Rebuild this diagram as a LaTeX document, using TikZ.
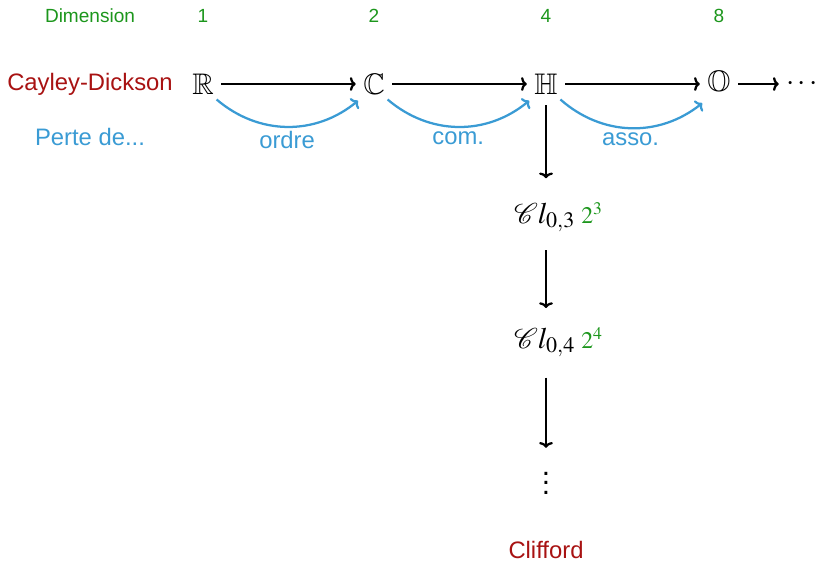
\documentclass[tikz,border=0pt]{standalone}
\usepackage{mathptmx}
\usepackage{amssymb}
\usepackage{mathrsfs}
\usepackage[no-math]{fontspec}
\setmainfont{Liberation Sans}
\usetikzlibrary{arrows.meta}

\definecolor{cdred}{RGB}{168,18,18}
\definecolor{lossblue}{RGB}{58,155,212}
\definecolor{dimgreen}{RGB}{28,150,28}

\tikzset{
  obj/.style={font=\fontsize{12.5}{14}\selectfont, inner sep=3pt},
  dimsup/.style={font=\fontsize{10}{12}\selectfont, inner sep=3pt},
  dimlabel/.style={font=\fontsize{8}{10}\selectfont, text=dimgreen},
  rowlabel/.style={font=\fontsize{10}{12}\selectfont},
  ext/.style={-{To[length=2.4pt,width=5.8pt]}, line width=0.95pt, black},
  loss/.style={-{To[length=2.4pt,width=5.8pt]}, line width=0.95pt, lossblue, bend right=40},
  losslabel/.style={font=\fontsize{10}{12}\selectfont, text=lossblue, below, inner sep=1.5pt}
}

\begin{document}
\begin{tikzpicture}[x=0.42pt, y=-0.42pt]
  \useasboundingbox (0,0) rectangle (819,563);

  % dimension row
  \node[dimlabel] (dimtitle) at (90,16) {Dimension};
  \node[dimlabel] (d1) at (203,16) {1};
  \node[dimlabel] (d2) at (374,16) {2};
  \node[dimlabel] (d4) at (546,16) {4};
  \node[dimlabel] (d8) at (719,16) {8};

  % Cayley-Dickson construction
  \node[rowlabel, text=cdred] (cdtitle) at (90,84) {Cayley-Dickson};
  \node[rowlabel, text=lossblue] (losstitle) at (90,137) {Perte de...};

  \node[obj] (R) at (203,84) {$\mathbb{R}$};
  \node[obj] (C) at (374,84) {$\mathbb{C}$};
  \node[obj] (H) at (546,84) {$\mathbb{H}$};
  \node[obj] (O) at (719,84) {$\mathbb{O}$};
  \node[obj] (more) at (802,84) {$\cdots$};

  \draw[ext] (R) -- (C);
  \draw[ext] (C) -- (H);
  \draw[ext] (H) -- (O);
  \draw[ext] (O) -- (more);

  \draw[loss] ([xshift=-2pt,yshift=1pt]R.south east) to node[losslabel] (lordre) {ordre} ([xshift=1pt,yshift=0.5pt]C.south west);
  \draw[loss] ([xshift=-2pt,yshift=1pt]C.south east) to node[losslabel] (lcom) {com.} ([xshift=1pt,yshift=0.5pt]H.south west);
  \draw[loss] ([xshift=-2pt,yshift=1pt]H.south east) to node[losslabel] (lasso) {asso.} ([xshift=1pt,yshift=0.5pt]O.south west);

  % Clifford algebras
  \node[obj, anchor=base east, inner xsep=0pt] (cl3) at (576,223) {$\mathscr{C}l_{0,3}$};
  \node[dimsup, anchor=base west, inner xsep=2pt] (dim3) at (cl3.base east) {$\textcolor{dimgreen}{2^3}$};
  \node[obj, anchor=base east, inner xsep=0pt] (cl4) at (576,348) {$\mathscr{C}l_{0,4}$};
  \node[dimsup, anchor=base west, inner xsep=2pt] (dim4) at (cl4.base east) {$\textcolor{dimgreen}{2^4}$};
  \node[obj] (vdots) at (546,476) {$\vdots$};
  \node[rowlabel, text=cdred] (cliftitle) at (546,550) {Clifford};

  \draw[ext] ([yshift=-1.5pt]H.south) -- ([yshift=7pt]H.south |- cl3.north);
  \draw[ext] ([yshift=-4.5pt]cl3.south -| H.south) -- ([yshift=5pt]H.south |- cl4.north);
  \draw[ext] ([yshift=-5.5pt]cl4.south -| H.south) -- ([yshift=1pt]H.south |- vdots.north);
\end{tikzpicture}
\end{document}
